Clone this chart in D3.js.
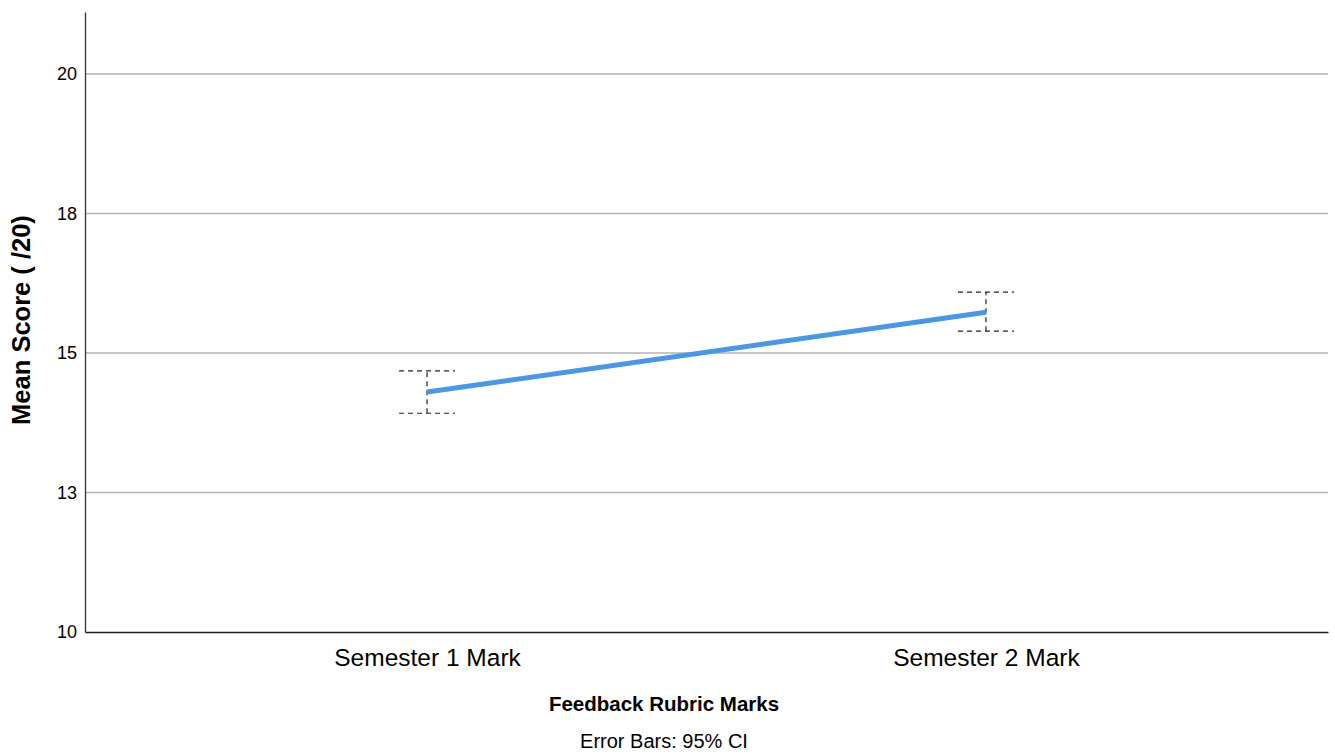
<!DOCTYPE html>
<html>
<head>
<meta charset="utf-8">
<script src="https://cdn.jsdelivr.net/npm/d3@7"></script>
<style>
  body { margin: 0; background: #fff; }
  svg { font-family: "Liberation Sans", Arial, sans-serif; }
</style>
</head>
<body>
<svg width="1335" height="754"></svg>
<script>
const categories = ['Semester 1 Mark', 'Semester 2 Mark'];
const means = [14.30, 15.73];
const ciLow = [13.92, 15.39];
const ciHigh = [14.68, 16.09];
const tickValues = [10, 12.5, 15, 17.5, 20];
const tickLabels = ['10', '13', '15', '18', '20'];

const margin = { top: 12, right: 7, bottom: 122, left: 85 },
    width = 1335 - margin.left - margin.right,
    height = 754 - margin.top - margin.bottom;

const svg = d3.select('svg');
const g = svg.append('g').attr('transform', 'translate(' + margin.left + ',' + margin.top + ')');

const x = d3.scalePoint()
    .domain(categories)
    .range([0, width])
    .padding(0.612);

const y = d3.scaleLinear()
    .domain([10, 21.11])
    .range([height, 0]);

// gridlines
g.selectAll('.grid')
    .data(tickValues.filter(d => d > 10))
    .enter().append('line')
    .attr('x1', 0).attr('x2', width)
    .attr('y1', d => y(d)).attr('y2', d => y(d))
    .attr('stroke', '#b4b4b4')
    .attr('stroke-width', 1.5);

// y axis
const yAxis = g.append('g')
    .call(d3.axisLeft(y).tickValues(tickValues).tickFormat((d, i) => tickLabels[i]).tickSize(0).tickPadding(8));
yAxis.select('.domain').attr('stroke', '#333').attr('stroke-width', 1.3);
yAxis.selectAll('text').attr('font-size', 18).attr('fill', '#000')
    .attr('font-family', '"Liberation Sans", Arial, sans-serif');

// x axis
const xAxis = g.append('g')
    .attr('transform', 'translate(0,' + height + ')')
    .call(d3.axisBottom(x).tickSize(0).tickPadding(17));
xAxis.select('.domain').attr('stroke', '#222').attr('stroke-width', 1.5);
xAxis.selectAll('text').attr('font-size', 24.5).attr('fill', '#000')
    .attr('font-family', '"Liberation Sans", Arial, sans-serif');

// error bars
const capW = 28;
const eb = g.selectAll('.eb')
    .data(categories)
    .enter().append('g')
    .attr('stroke', '#222')
    .attr('stroke-width', 1.2)
    .attr('stroke-dasharray', '5,4');
eb.append('line')
    .attr('x1', d => x(d)).attr('x2', d => x(d))
    .attr('y1', (d, i) => y(ciLow[i])).attr('y2', (d, i) => y(ciHigh[i]));
eb.append('line')
    .attr('x1', d => x(d) - capW).attr('x2', d => x(d) + capW)
    .attr('y1', (d, i) => y(ciHigh[i])).attr('y2', (d, i) => y(ciHigh[i]));
eb.append('line')
    .attr('x1', d => x(d) - capW).attr('x2', d => x(d) + capW)
    .attr('y1', (d, i) => y(ciLow[i])).attr('y2', (d, i) => y(ciLow[i]));

// mean line
const line = d3.line()
    .x((d, i) => x(categories[i]))
    .y(d => y(d));
g.append('path')
    .datum(means)
    .attr('d', line)
    .attr('fill', 'none')
    .attr('stroke', '#4a97e3')
    .attr('stroke-width', 5);

// titles
svg.append('text')
    .attr('transform', 'translate(30,' + 320 + ') rotate(-90)')
    .attr('text-anchor', 'middle')
    .attr('font-size', 25.5)
    .attr('font-weight', 'bold')
    .text('Mean Score ( /20)');

svg.append('text')
    .attr('x', 664)
    .attr('y', 711)
    .attr('text-anchor', 'middle')
    .attr('font-size', 20.5)
    .attr('font-weight', 'bold')
    .text('Feedback Rubric Marks');

svg.append('text')
    .attr('x', 664)
    .attr('y', 748)
    .attr('text-anchor', 'middle')
    .attr('font-size', 20)
    .text('Error Bars: 95% CI');
</script>
</body>
</html>
